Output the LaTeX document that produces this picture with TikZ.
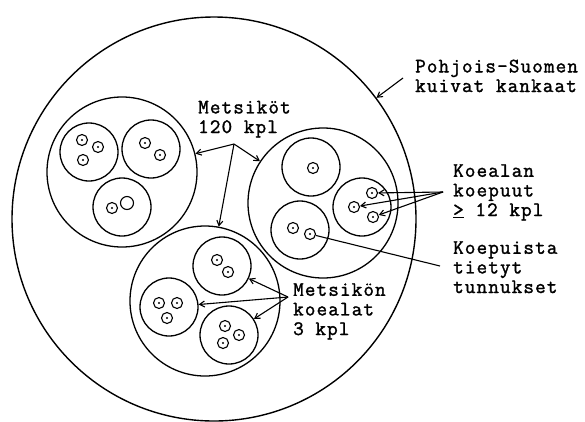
\documentclass[tikz,border=0pt]{standalone}
\usepackage{fontspec}
\newfontfamily\tw{Latin Modern Mono}[LetterSpace=5.6,FakeBold=1.5]
\usetikzlibrary{arrows.meta}
\begin{document}
\begin{tikzpicture}[x=1pt,y=-1pt,
  big/.style={circle,draw,line width=1.4pt,minimum size=404pt,inner sep=0pt},
  metsa/.style={circle,draw,line width=1.3pt,minimum size=150pt,inner sep=0pt},
  koeala/.style={circle,draw,line width=1.3pt,minimum size=58pt,inner sep=0pt},
  puu/.style={circle,draw,line width=1.1pt,minimum size=11pt,inner sep=0pt,
    path picture={\fill (path picture bounding box.center) circle (1.2pt);}},
  tyhja/.style={circle,draw,line width=1.1pt,minimum size=13pt,inner sep=0pt},
  lbl/.style={font=\tw\fontsize{20.5}{19.6}\selectfont,align=left,anchor=base west,inner sep=0pt},
  arr/.style={-{Straight Barb[length=5pt,width=6pt]},line width=1.1pt},
  ln/.style={line width=1.1pt}]
\useasboundingbox (0,0) rectangle (585,421);
\fill[white] (0,0) rectangle (585,421);

\node[big] (outer) at (214,219) {};

% forest stands
\node[metsa] (mL) at (122,172) {};
\node[metsa] (mR) at (323,203) {};
\node[metsa] (mB) at (205,301) {};

% plots in left stand
\node[koeala] (kL1) at (89,152) {};
\node[koeala] (kL2) at (151,149) {};
\node[koeala] (kL3) at (122,207) {};
\node[puu] (t1) at (82,140) {};
\node[puu] (t2) at (98,147) {};
\node[puu] (t3) at (83,160) {};
\node[puu] (t4) at (145,143) {};
\node[puu] (t5) at (160,155) {};
\node[puu] (t6) at (112,208) {};
\node[tyhja] (t7) at (127,203) {};

% plots in right stand
\node[koeala] (kR1) at (311,167) {};
\node[koeala] (kR2) at (362,207) {};
\node[koeala] (kR3) at (300,230) {};
\node[puu] (r1) at (313,168) {};
\node[puu] (r2) at (372,193) {};
\node[puu] (r3) at (354,207) {};
\node[puu] (r4) at (373,217) {};
\node[puu] (r5) at (293,228) {};
\node[puu] (r6) at (310,234) {};

% plots in bottom stand
\node[koeala] (kB1) at (222,266) {};
\node[koeala] (kB2) at (169,307) {};
\node[koeala] (kB3) at (229,335) {};
\node[puu] (b1) at (217,260) {};
\node[puu] (b2) at (228,272) {};
\node[puu] (b3) at (159,303) {};
\node[puu] (b4) at (177,303) {};
\node[puu] (b5) at (167,318) {};
\node[puu] (b6) at (225,326) {};
\node[puu] (b7) at (239,335) {};
\node[puu] (b8) at (223,343) {};

% labels (anchored at the baseline of the last line)
\node[lbl] (lPS) at (415,92) {Pohjois-Suomen\\kuivat kankaat};
\node[lbl] (lMe) at (198,133) {Metsiköt\\120 kpl};
\node[lbl] (lKo) at (453,216) {Koealan\\koepuut\\\underline{>} 12 kpl};
\node[lbl] (lKp) at (453,293) {Koepuista\\tietyt\\tunnukset};
\node[lbl] (lMk) at (293,335) {Metsikön\\koealat\\3 kpl};

% connectors
\coordinate (pPS) at (403,78);
\coordinate (pMe) at (234,144);
\coordinate (pKo) at (443,192);
\coordinate (pKp) at (440,266);
\coordinate (pMk) at (288,297);

\draw[arr] (pPS) -- (outer);
\draw[arr] (pMe) -- (mL);
\draw[arr] (pMe) -- (mR);
\draw[arr] (pMe) -- (mB);
\draw[arr] (pKo) -- (r2);
\draw[arr] (pKo) -- (r3);
\draw[arr] (pKo) -- (r4);
\draw[ln] (pKp) -- (r6);
\draw[arr] (pMk) -- (kB1);
\draw[arr] (pMk) -- (kB2);
\draw[arr] (pMk) -- (kB3);
\end{tikzpicture}
\end{document}
